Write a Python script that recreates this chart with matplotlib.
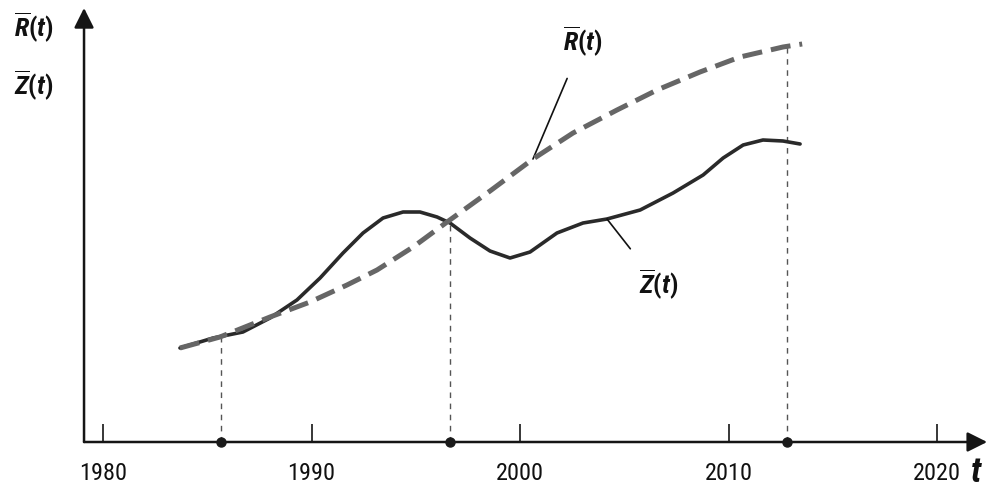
import matplotlib
matplotlib.use("Agg")
import matplotlib.pyplot as plt
from matplotlib import font_manager

# ---------------- data ----------------
r_years = [1983.69, 1985.61, 1988.01, 1989.93, 1991.70, 1993.14, 1994.87, 1996.50,
           1998.56, 2000.62, 2002.54, 2004.65, 2006.57, 2008.63, 2010.55, 2012.61, 2013.53]
r_values = [0.94, 1.05, 1.25, 1.40, 1.57, 1.72, 1.95, 2.20,
            2.51, 2.83, 3.09, 3.32, 3.52, 3.70, 3.85, 3.95, 3.98]

z_years = [1983.69, 1985.28, 1986.71, 1988.01, 1989.30, 1990.41, 1991.51, 1992.47,
           1993.43, 1994.39, 1995.20, 1996.02, 1996.64, 1997.60, 1998.56, 1999.52,
           2000.48, 2001.77, 2003.02, 2004.17, 2005.76, 2007.34, 2008.78, 2009.74,
           2010.70, 2011.65, 2012.61, 2013.43]
z_values = [0.94, 1.04, 1.10, 1.24, 1.42, 1.64, 1.89, 2.09,
            2.24, 2.30, 2.30, 2.25, 2.19, 2.04, 1.91, 1.84,
            1.90, 2.09, 2.19, 2.23, 2.32, 2.49, 2.67, 2.84,
            2.97, 3.02, 3.01, 2.98]

tick_years = [1980, 1990, 2000, 2010, 2020]
tick_labels = ["1980", "1990", "2000", "2010", "2020"]

guide_years = [1985.66, 1996.64, 2012.80]
guide_tops = [1.05, 2.20, 3.96]

# ---------------- fonts (prefer a condensed face) ----------------
entries = [(f.name, f.stretch) for f in font_manager.fontManager.ttflist]
names = {n for n, s in entries}
fam, stretch = "Liberation Sans", "normal"
for cand in ["Liberation Sans Narrow", "Roboto Condensed", "Open Sans Condensed",
             "Noto Sans Condensed", "DejaVu Sans Condensed"]:
    if cand in names:
        fam, stretch = cand, "normal"
        break
else:
    for n, s in entries:
        if n == "DejaVu Sans" and s in ("condensed", "semi-condensed"):
            fam, stretch = "DejaVu Sans", "condensed"
            break
plt.rcParams["font.family"] = [fam, "DejaVu Sans"]
plt.rcParams["font.stretch"] = stretch
plt.rcParams["mathtext.fontset"] = "custom"
sfx = ":stretch=condensed" if stretch != "normal" else ""
plt.rcParams["mathtext.it"] = f"{fam}:italic:bold{sfx}"
plt.rcParams["mathtext.rm"] = f"{fam}:bold{sfx}"
plt.rcParams["mathtext.bf"] = f"{fam}:bold{sfx}"
narrow = fam != "Liberation Sans"

# ---------------- figure ----------------
fig = plt.figure(figsize=(9.89, 4.88), dpi=100)
ax = fig.add_axes([0, 0, 1, 1])
ax.set_xlim(1975.06, 2022.49)
ax.set_ylim(-0.46, 4.42)
ax.axis("off")

axis_col = "#151515"
x0, y0 = 1979.09, 0.0

arrow = dict(arrowstyle="-|>,head_length=0.6,head_width=0.3", lw=1.8,
             color=axis_col, mutation_scale=20, shrinkA=0, shrinkB=0)
ax.annotate("", xy=(2022.40, y0), xytext=(x0, y0), arrowprops=arrow)
ax.annotate("", xy=(x0, 4.34), xytext=(x0, y0), arrowprops=arrow)

tick_fs = 17.5 if narrow else 14
for ty, tl in zip(tick_years, tick_labels):
    ax.plot([ty, ty], [y0, 0.18], color=axis_col, lw=1.2, solid_capstyle="butt")
    ax.text(ty, -0.31, tl, ha="center", va="center", fontsize=tick_fs, color="#111")
ax.text(2021.85, -0.30, "t", ha="center", va="center", fontsize=25,
        fontstyle="italic", fontweight="bold", color="#111")

for gy, gt in zip(guide_years, guide_tops):
    ax.plot([gy, gy], [y0, gt], color="#555555", lw=1.0, ls=(0, (4, 4)), zorder=1)
    ax.plot([gy], [y0], "o", color="#1a1a1a", ms=6.5, zorder=5)

ax.plot(z_years, z_values, color="#2a2a2a", lw=2.6, solid_capstyle="round",
        solid_joinstyle="round", zorder=3)
ax.plot(r_years, r_values, color="#666666", lw=3.6, dashes=(4, 1.8),
        dash_capstyle="butt", zorder=4)

lab_fs = 19
R_lab = r"$\overline{R}(t)$"
Z_lab = r"$\overline{Z}(t)$"
ax.text(1976.7, 4.14, R_lab, ha="center", va="center", fontsize=lab_fs, color="#111")
ax.text(1976.7, 3.56, Z_lab, ha="center", va="center", fontsize=lab_fs, color="#111")

ax.annotate(R_lab, xy=(2000.62, 2.83), xytext=(2003.0, 4.0),
            ha="center", va="center", fontsize=lab_fs, color="#111",
            arrowprops=dict(arrowstyle="-", lw=1.2, color="#111",
                            shrinkA=13, shrinkB=0))
ax.annotate(Z_lab, xy=(2004.17, 2.23), xytext=(2006.65, 1.57),
            ha="center", va="center", fontsize=lab_fs, color="#111",
            arrowprops=dict(arrowstyle="-", lw=1.2, color="#111",
                            shrinkA=15, shrinkB=0))

fig.savefig("out.png", dpi=100)
